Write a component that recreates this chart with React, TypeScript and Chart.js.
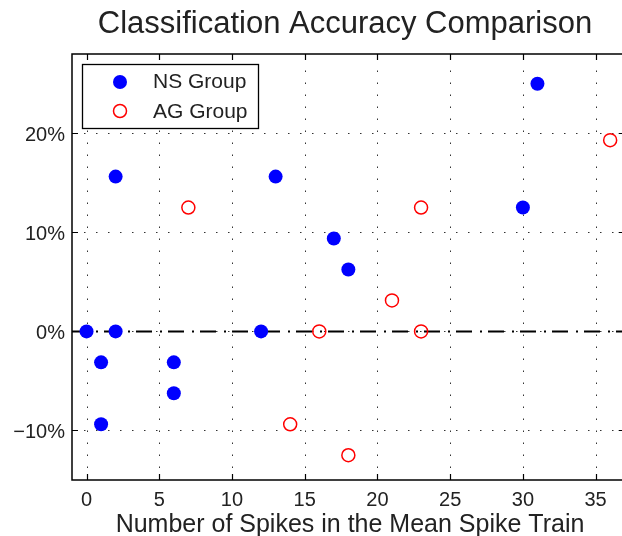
import React, { useEffect, useRef } from "react";
import { Chart, registerables } from "chart.js";

Chart.register(...registerables);

const titleText = "Classification Accuracy Comparison";
const xAxisTitle = "Number of Spikes in the Mean Spike Train";
const xTicks = [0, 5, 10, 15, 20, 25, 30, 35];
const yTicks = [-10, 0, 10, 20];
const yTickLabels = ["\u221210%", "0%", "10%", "20%"];
const legendLabels = ["NS Group", "AG Group"];

const nsX = [0, 1, 1, 2, 2, 6, 6, 12, 13, 17, 18, 30, 31];
const nsY = [0, -3.125, -9.375, 15.625, 0, -3.125, -6.25, 0, 15.625, 9.375, 6.25, 12.5, 25];
const agX = [7, 14, 16, 18, 21, 23, 23, 36];
const agY = [12.5, -9.375, 0, -12.5, 3.125, 12.5, 0, 19.3];

const FONT = '"Liberation Sans", Arial, Helvetica, sans-serif';

const decorPlugin = {
  id: "decor",
  beforeDatasetsDraw(chart: any) {
    const { ctx, chartArea } = chart;
    const xs = chart.scales.x;
    const ys = chart.scales.y;
    ctx.save();
    ctx.strokeStyle = "#333";
    ctx.lineWidth = 1;
    ctx.setLineDash([1.5, 10.5]);
    xTicks.forEach((v) => {
      const px = Math.round(xs.getPixelForValue(v)) + 0.5;
      ctx.beginPath();
      ctx.moveTo(px, chartArea.bottom);
      ctx.lineTo(px, chartArea.top);
      ctx.stroke();
    });
    yTicks.forEach((v) => {
      const py = Math.round(ys.getPixelForValue(v)) + 0.5;
      ctx.beginPath();
      ctx.moveTo(chartArea.left, py);
      ctx.lineTo(chartArea.right, py);
      ctx.stroke();
    });
    ctx.restore();
  },
  afterDatasetsDraw(chart: any) {
    const { ctx, chartArea } = chart;
    const xs = chart.scales.x;
    const ys = chart.scales.y;
    const { left, right, top, bottom } = chartArea;
    ctx.save();
    ctx.setLineDash([]);
    ctx.strokeStyle = "#000";
    ctx.lineWidth = 1.5;
    ctx.strokeRect(left, top, right - left, bottom - top);
    const tl = 6;
    ctx.lineWidth = 1.2;
    xTicks.forEach((v) => {
      const px = Math.round(xs.getPixelForValue(v)) + 0.5;
      ctx.beginPath();
      ctx.moveTo(px, bottom);
      ctx.lineTo(px, bottom - tl);
      ctx.moveTo(px, top);
      ctx.lineTo(px, top + tl);
      ctx.stroke();
    });
    yTicks.forEach((v) => {
      const py = Math.round(ys.getPixelForValue(v)) + 0.5;
      ctx.beginPath();
      ctx.moveTo(left, py);
      ctx.lineTo(left + tl, py);
      ctx.moveTo(right, py);
      ctx.lineTo(right - tl, py);
      ctx.stroke();
    });
    ctx.fillStyle = "#222";
    ctx.font = `20px ${FONT}`;
    ctx.textAlign = "center";
    ctx.textBaseline = "alphabetic";
    xTicks.forEach((v) => {
      ctx.fillText(String(v), xs.getPixelForValue(v), 506);
    });
    ctx.textAlign = "right";
    yTicks.forEach((v, i) => {
      ctx.fillText(yTickLabels[i], 65, ys.getPixelForValue(v) + 8);
    });
    ctx.font = `25px ${FONT}`;
    ctx.textAlign = "center";
    ctx.fillText(xAxisTitle, 350, 532);
    ctx.font = `31px ${FONT}`;
    ctx.fillText(titleText, 345, 33);
    ctx.fillStyle = "#fff";
    ctx.fillRect(82, 64, 177, 65);
    ctx.strokeStyle = "#000";
    ctx.lineWidth = 1.3;
    ctx.strokeRect(82.5, 64.5, 176, 64);
    ctx.fillStyle = "#0000ff";
    ctx.beginPath();
    ctx.arc(120, 82, 7, 0, Math.PI * 2);
    ctx.fill();
    ctx.strokeStyle = "#ff0000";
    ctx.lineWidth = 1.5;
    ctx.beginPath();
    ctx.arc(120, 111, 6.5, 0, Math.PI * 2);
    ctx.stroke();
    ctx.fillStyle = "#222";
    ctx.font = `21px ${FONT}`;
    ctx.textAlign = "left";
    ctx.fillText(legendLabels[0], 153, 88);
    ctx.fillText(legendLabels[1], 153, 118);
    ctx.restore();
  },
};

export default function App() {
  const ref = useRef<HTMLCanvasElement | null>(null);
  useEffect(() => {
    if (!ref.current) return;
    const chart = new Chart(ref.current, {
      type: "scatter",
      data: {
        datasets: [
          {
            label: legendLabels[0],
            data: nsX.map((x, i) => ({ x, y: nsY[i] })),
            backgroundColor: "#0000ff",
            borderWidth: 0,
            pointRadius: 7,
            order: 1,
          },
          {
            label: legendLabels[1],
            data: agX.map((x, i) => ({ x, y: agY[i] })),
            backgroundColor: "rgba(0,0,0,0)",
            borderColor: "#ff0000",
            borderWidth: 1.5,
            pointRadius: 6.5,
            order: 1,
          },
          {
            type: "line",
            label: "zero",
            data: [
              { x: -1, y: 0 },
              { x: 37, y: 0 },
            ],
            borderColor: "#000",
            borderWidth: 2,
            borderDash: [16, 8, 2, 6],
            pointRadius: 0,
            showLine: true,
            order: 5,
          } as any,
        ],
      },
      options: {
        animation: false,
        responsive: false,
        devicePixelRatio: 1,
        layout: { padding: { left: 72, right: 15.3, top: 54, bottom: 56 } },
        plugins: {
          legend: { display: false },
          title: { display: false },
          tooltip: { enabled: false },
        },
        scales: {
          x: { type: "linear", min: -1, max: 37, display: false },
          y: { type: "linear", min: -15, max: 28, display: false },
        },
      },
      plugins: [decorPlugin],
    });
    return () => chart.destroy();
  }, []);
  return (
    <div
      style={{
        position: "fixed",
        left: 0,
        top: 0,
        width: 622,
        height: 536,
        overflow: "hidden",
        background: "#fff",
      }}
    >
      <canvas ref={ref} width={640} height={536} style={{ width: 640, height: 536 }} />
    </div>
  );
}
